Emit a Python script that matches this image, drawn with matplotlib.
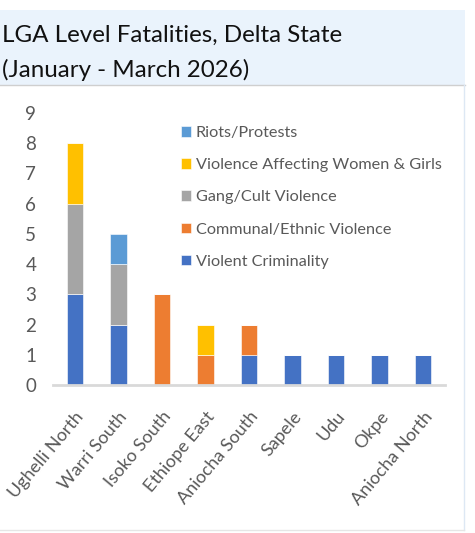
import matplotlib
matplotlib.use("Agg")
import matplotlib.pyplot as plt
from matplotlib.patches import Rectangle
import numpy as np

plt.rcParams['font.family'] = ['Lato', 'DejaVu Sans']

# LGAs and fatalities by event type
lgas = ['Ughelli North', 'Warri South', 'Isoko South', 'Ethiope East', 'Aniocha South',
        'Sapele', 'Udu', 'Okpe', 'Aniocha North']
violent_criminality = [3, 2, 0, 0, 1, 1, 1, 1, 1]
communal_ethnic = [0, 0, 3, 1, 1, 0, 0, 0, 0]
gang_cult = [3, 2, 0, 0, 0, 0, 0, 0, 0]
vawg = [2, 0, 0, 1, 0, 0, 0, 0, 0]
riots_protests = [0, 1, 0, 0, 0, 0, 0, 0, 0]

series = [
    ('Violent Criminality', violent_criminality, '#4472C4'),
    ('Communal/Ethnic Violence', communal_ethnic, '#ED7D31'),
    ('Gang/Cult Violence', gang_cult, '#A5A5A5'),
    ('Violence Affecting Women & Girls', vawg, '#FFC000'),
    ('Riots/Protests', riots_protests, '#5B9BD5'),
]

W, H = 475, 533
fig = plt.figure(figsize=(W / 100, H / 100), dpi=100)

def px(x0, y0, x1, y1):
    # pixel box (top-left origin) -> figure fraction rect
    return [x0 / W, 1 - y1 / H, (x1 - x0) / W, (y1 - y0) / H]

# title band and chart frame
fig.patches.append(Rectangle((0, 1 - 85 / H), 465 / W, 75 / H, transform=fig.transFigure,
                             facecolor='#EAF3FC', edgecolor='none', zorder=0))
fig.lines.append(plt.Line2D([0, 465 / W], [1 - 85 / H] * 2, transform=fig.transFigure,
                            color='#CFCFCF', lw=1))
fig.lines.append(plt.Line2D([464 / W] * 2, [1 - 85 / H, 1 - 530 / H], transform=fig.transFigure,
                            color='#DDE8F4', lw=1))
fig.lines.append(plt.Line2D([0, 464 / W], [1 - 530 / H] * 2, transform=fig.transFigure,
                            color='#E6E6E6', lw=1))
fig.text(2 / W, 1 - 53 / H, 'LGA Level Fatalities, Delta State\n(January - March 2026)',
         fontsize=17.4, color='#111111', ha='left', va='center', linespacing=1.7)

ax = fig.add_axes(px(53, 113, 445, 385))
x = np.arange(len(lgas))
bottom = np.zeros(len(lgas))
for name, vals, color in series:
    vals = np.array(vals, dtype=float)
    ax.bar(x, vals, width=0.38, bottom=bottom, color=color, label=name,
           edgecolor='white', linewidth=0.4)
    bottom += vals

ax.set_xlim(-0.5, 8.5)
ax.set_ylim(0, 9)
ax.set_yticks(range(10))
ax.tick_params(axis='y', length=0, labelsize=13.5, labelcolor='#595959', pad=12)
ax.set_xticks(x)
ax.set_xticklabels(lgas, rotation=50, ha='right', rotation_mode='anchor',
                   fontsize=13, color='#595959')
ax.tick_params(axis='x', length=0, pad=17)
for s in ['top', 'right', 'left']:
    ax.spines[s].set_visible(False)
ax.spines['bottom'].set_color('#D9D9D9')
ax.spines['bottom'].set_linewidth(2)

handles, labels = ax.get_legend_handles_labels()
ax.legend(handles[::-1], labels[::-1], loc='upper left',
          bbox_to_anchor=(181 / W, 1 - 126 / H), bbox_transform=fig.transFigure,
          frameon=False, fontsize=11.7, labelcolor='#595959',
          handlelength=0.62, handleheight=0.62, handletextpad=0.3, labelspacing=1.12,
          borderaxespad=0, borderpad=0)

fig.savefig('out.png', dpi=100)
